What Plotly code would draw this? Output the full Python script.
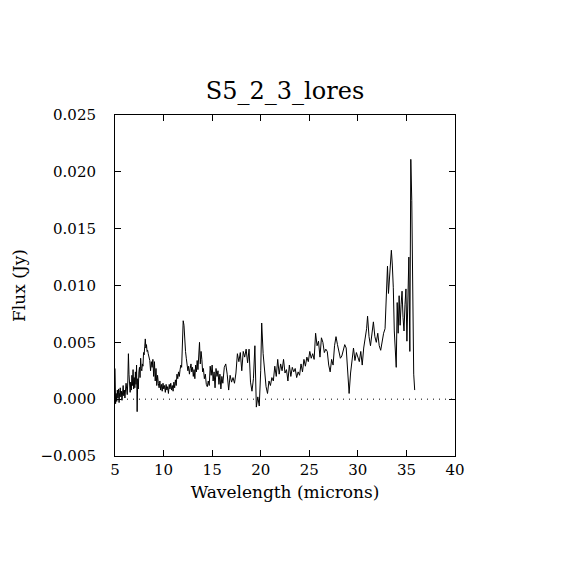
import plotly.graph_objects as go

# Spitzer IRS low-res spectrum
wavelength = [
    5.00, 5.06, 5.12, 5.18, 5.24, 5.30, 5.36, 5.42, 5.48, 5.54, 5.60, 5.66, 5.72, 5.78, 5.84, 5.90,
    5.96, 6.02, 6.08, 6.14, 6.20, 6.26, 6.32, 6.38, 6.44, 6.50, 6.56, 6.62, 6.68, 6.74, 6.80, 6.86,
    6.92, 6.98, 7.04, 7.10, 7.16, 7.22, 7.28, 7.34, 7.40, 7.46, 7.52, 7.58, 7.64, 7.70, 7.76, 7.82,
    7.88, 7.94, 8.00, 8.06, 8.12, 8.18, 8.24, 8.30, 8.36, 8.42, 8.50, 8.58, 8.66, 8.74, 8.82, 8.90,
    8.98, 9.06, 9.14, 9.22, 9.30, 9.38, 9.46, 9.54, 9.62, 9.70, 9.78, 9.86, 9.94, 10.02, 10.10, 10.18,
    10.26, 10.34, 10.42, 10.50, 10.58, 10.66, 10.74, 10.82, 10.90, 10.98, 11.06, 11.14, 11.22, 11.30,
    11.38, 11.46, 11.54, 11.62, 11.70, 11.78, 11.86, 11.94, 12.02, 12.10, 12.18, 12.26, 12.34, 12.42,
    12.50, 12.58, 12.66, 12.74, 12.82, 12.90, 12.98, 13.06, 13.14, 13.22, 13.30, 13.38, 13.46, 13.54,
    13.62, 13.70, 13.78, 13.86, 13.94, 14.02, 14.10, 14.20, 14.30, 14.40, 14.50, 14.60, 14.70, 14.80,
    14.90, 15.00, 15.10, 15.20, 15.30, 15.40, 15.50, 15.60, 15.70, 15.80, 15.90, 16.00, 16.10, 16.25,
    16.40, 16.55, 16.70, 16.85, 17.00, 17.15, 17.30, 17.45, 17.60, 17.75, 17.90, 18.05, 18.20, 18.35,
    18.50, 18.65, 18.80, 18.95, 19.10, 19.25, 19.40, 19.55, 19.70, 19.85, 20.00, 20.10, 20.25, 20.40,
    20.55, 20.70, 20.85, 21.00, 21.15, 21.30, 21.45, 21.60, 21.75, 21.90, 22.05, 22.20, 22.35, 22.50,
    22.65, 22.80, 22.95, 23.10, 23.25, 23.40, 23.55, 23.70, 23.85, 24.00, 24.15, 24.30, 24.45, 24.60,
    24.75, 24.90, 25.05, 25.20, 25.35, 25.50, 25.65, 25.80, 25.95, 26.10, 26.25, 26.40, 26.55, 26.70,
    26.85, 27.00, 27.15, 27.30, 27.45, 27.60, 27.75, 27.90, 28.05, 28.20, 28.35, 28.50, 28.65, 28.80,
    28.95, 29.10, 29.25, 29.40, 29.55, 29.70, 29.85, 30.00, 30.15, 30.30, 30.45, 30.60, 30.75, 30.90,
    31.00, 31.15, 31.30, 31.45, 31.60, 31.75, 31.90, 32.05, 32.20, 32.35, 32.50, 32.65, 32.80, 32.95,
    33.05, 33.15, 33.25, 33.35, 33.45, 33.55, 33.65, 33.75, 33.85, 33.95, 34.05, 34.15, 34.25, 34.35,
    34.45, 34.55, 34.65, 34.75, 34.85, 34.95, 35.05, 35.15, 35.25, 35.35, 35.45, 35.55, 35.65, 35.75,
    35.85,
]

flux = [
    0.0027, -0.0004, 0.0005, -0.0002, 0.0008, 0.0001, 0.0009, -0.0003, 0.0006, 0.0010, 0.0002, 0.0007,
    -0.0001, 0.0004, 0.0012, 0.0003, 0.0008, 0.0001, 0.0006, 0.0014, 0.0009, 0.0004, 0.0016, 0.0040,
    0.0022, 0.0011, 0.0006, 0.0015, 0.0008, 0.0021, 0.0012, 0.0026, 0.0009, 0.0019, 0.0010, 0.0024,
    0.0013, 0.0030, -0.0011, 0.0018, 0.0009, 0.0024, 0.0028, 0.0019, 0.0036, 0.0027, 0.0025, 0.0031,
    0.0029, 0.0041, 0.0039, 0.0046, 0.0053, 0.0045, 0.0048, 0.0042, 0.0043, 0.0040, 0.0038, 0.0034,
    0.0025, 0.0033, 0.0028, 0.0035, 0.0020, 0.0033, 0.0016, 0.0027, 0.0012, 0.0021, 0.0014, 0.0010,
    0.0016, 0.0008, 0.0013, 0.0007, 0.0014, 0.0009, 0.0012, 0.0006, 0.0013, 0.0008, 0.0011, 0.0005,
    0.0013, 0.0009, 0.0014, 0.0008, 0.0012, 0.0007, 0.0015, 0.0010, 0.0017, 0.0012, 0.0022, 0.0018,
    0.0024, 0.0020, 0.0026, 0.0030, 0.0028, 0.0046, 0.0069, 0.0065, 0.0050, 0.0042, 0.0036, 0.0031,
    0.0025, 0.0029, 0.0022, 0.0027, 0.0031, 0.0024, 0.0028, 0.0020, 0.0026, 0.0018, 0.0030, 0.0024,
    0.0034, 0.0026, 0.0049, 0.0050, 0.0031, 0.0042, 0.0035, 0.0024, 0.0027, 0.0018, 0.0022, 0.0013,
    0.0011, 0.0016, 0.0012, 0.0029, 0.0021, 0.0030, 0.0016, 0.0024, 0.0010, 0.0027, 0.0020, 0.0025,
    0.0013, 0.0022, 0.0009, 0.0020, 0.0014, 0.0028, 0.0031, 0.0022, 0.0008, 0.0021, 0.0015, 0.0019,
    0.0014, 0.0023, 0.0040, 0.0033, 0.0041, 0.0025, 0.0042, 0.0037, 0.0044, 0.0032, 0.0044, 0.0015,
    0.0007, 0.0018, 0.0047, -0.0007, 0.0002, -0.0006, 0.0025, 0.0067, 0.0040, 0.0027, 0.0011, 0.0005,
    0.0016, 0.0012, 0.0019, 0.0016, 0.0029, 0.0020, 0.0035, 0.0022, 0.0031, 0.0025, 0.0035, 0.0023,
    0.0026, 0.0016, 0.0030, 0.0020, 0.0028, 0.0024, 0.0027, 0.0019, 0.0024, 0.0021, 0.0031, 0.0024,
    0.0035, 0.0029, 0.0037, 0.0033, 0.0042, 0.0036, 0.0040, 0.0035, 0.0058, 0.0047, 0.0051, 0.0037,
    0.0054, 0.0050, 0.0041, 0.0044, 0.0042, 0.0030, 0.0024, 0.0035, 0.0030, 0.0047, 0.0055, 0.0048,
    0.0041, 0.0036, 0.0038, 0.0043, 0.0048, 0.0045, 0.0020, 0.0005, 0.0023, 0.0036, 0.0045, 0.0034,
    0.0041, 0.0037, 0.0033, 0.0042, 0.0030, 0.0045, 0.0053, 0.0062, 0.0073, 0.0055, 0.0047, 0.0061,
    0.0068, 0.0055, 0.0050, 0.0058, 0.0047, 0.0043, 0.0052, 0.0058, 0.0062, 0.0094, 0.0117, 0.0093,
    0.0109, 0.0122, 0.0131, 0.0118, 0.0098, 0.0060, 0.0035, 0.0028, 0.0085, 0.0058, 0.0091, 0.0065,
    0.0083, 0.0095, 0.0072, 0.0060, 0.0083, 0.0097, 0.0051, 0.0100, 0.0125, 0.0042, 0.0211, 0.0175,
    0.0068, 0.0022, 0.0008,
]

x_ticks = [5, 10, 15, 20, 25, 30, 35, 40]
y_ticks = [-0.005, 0.000, 0.005, 0.010, 0.015, 0.020, 0.025]

font_name = 'DejaVu Serif'

fig = go.Figure()

fig.add_trace(go.Scatter(
    x=wavelength,
    y=flux,
    mode='lines',
    line=dict(color='black', width=1),
    showlegend=False,
))

# dotted zero level
fig.add_hline(y=0, line=dict(color='black', width=1, dash='1px,5px'))

axis_style = dict(
    showgrid=False,
    zeroline=False,
    showline=True,
    linecolor='black',
    linewidth=1,
    mirror='ticks',
    ticks='inside',
    ticklen=6,
    tickcolor='black',
    tickfont=dict(family=font_name, size=15, color='black'),
)

fig.update_xaxes(
    range=[5, 40],
    tickvals=x_ticks,
    title=dict(text='Wavelength (microns)', font=dict(family=font_name, size=17, color='black'), standoff=8),
    ticklabelstandoff=0,
    **axis_style
)
fig.update_yaxes(
    range=[-0.005, 0.025],
    tickvals=y_ticks,
    tickformat='.3f',
    title=dict(text='Flux (Jy)', font=dict(family=font_name, size=17, color='black'), standoff=10),
    ticklabelstandoff=15,
    **axis_style
)

fig.update_layout(
    width=570,
    height=570,
    paper_bgcolor='white',
    plot_bgcolor='white',
    margin=dict(l=107, r=123, t=107, b=122),
    title=dict(
        text='S5_2_3_lores',
        font=dict(family=font_name, size=24, color='black'),
        x=0.486,
        xanchor='center',
        y=0.855,
        yanchor='middle',
    ),
)

fig.write_html('out.html')
